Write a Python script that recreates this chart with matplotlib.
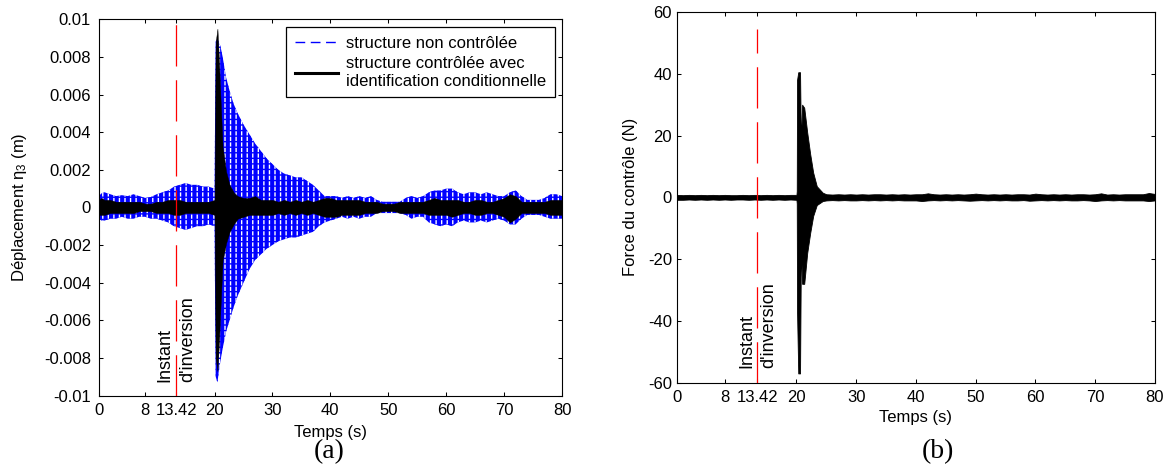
import numpy as np
import matplotlib
matplotlib.use("Agg")
import matplotlib.pyplot as plt
from matplotlib.lines import Line2D

plt.rcParams['font.family'] = ['Liberation Sans', 'DejaVu Sans']
plt.rcParams['mathtext.fontset'] = 'custom'
plt.rcParams['mathtext.rm'] = 'Liberation Sans'
plt.rcParams['mathtext.it'] = 'Liberation Sans'
plt.rcParams['hatch.linewidth'] = 1.0

# instant of inversion (s)
t_inv = 13.42

# (a) displacement envelopes
t_a = [0, 0.5, 1, 2, 3, 4, 5, 6, 7, 8, 9, 10, 11, 12, 13, 14, 15, 16, 17, 18, 19, 20,
       20.2, 20.5, 20.8, 21, 21.4, 22, 22.6, 23.3, 24,
       25, 26, 27, 28, 29, 30, 31, 32, 33, 34, 35, 36, 37, 38, 39, 40, 41, 42, 43, 44,
       45, 46, 47, 48, 49, 50, 51, 52, 53, 54, 55, 56, 57, 58, 59, 60, 61, 62, 63, 64,
       65, 66, 67, 68, 69, 70, 71, 72, 73, 74, 75, 76, 77, 78, 79, 80]

blue_hi = [0.0006, 0.00075, 0.0008, 0.0007, 0.0006, 0.00065, 0.0006, 0.0007, 0.0006, 0.0005,
           0.00055, 0.0007, 0.0008, 0.0009, 0.0011, 0.0012, 0.0013, 0.0012, 0.0012, 0.0011,
           0.0011, 0.0010,
           0.0088, 0.0090, 0.0087, 0.0086, 0.0080, 0.0069, 0.0062, 0.0055, 0.0050,
           0.0044, 0.0039, 0.0034, 0.0030, 0.0026, 0.0023, 0.0020, 0.0018, 0.0017, 0.0016,
           0.0016, 0.0014, 0.0012, 0.0009, 0.0006, 0.0006, 0.0006, 0.0005, 0.0006, 0.0005,
           0.0006, 0.0005, 0.0006, 0.0004, 0.0003, 0.0003, 0.0003, 0.0003, 0.0005, 0.0006,
           0.0005, 0.0006, 0.0008, 0.0009, 0.0009, 0.0010, 0.0010, 0.0008, 0.0007, 0.0008,
           0.0008, 0.0007, 0.0008, 0.0007, 0.0006, 0.0006, 0.0008, 0.0009, 0.0006, 0.0004,
           0.0004, 0.0004, 0.0005, 0.0007, 0.0007, 0.0006]
blue_lo = [-0.0006, -0.0007, -0.0007, -0.0006, -0.0006, -0.0005, -0.0006, -0.0006, -0.0005, -0.0005,
           -0.0006, -0.0006, -0.0007, -0.0008, -0.0010, -0.0011, -0.0012, -0.0011, -0.0010, -0.0010,
           -0.0009, -0.0010,
           -0.0090, -0.0093, -0.0086, -0.0082, -0.0075, -0.0066, -0.0060, -0.0053, -0.0047,
           -0.0040, -0.0033, -0.0028, -0.0025, -0.0022, -0.0020, -0.0018, -0.0017, -0.0016, -0.0016,
           -0.0015, -0.0014, -0.0013, -0.0010, -0.0008, -0.0007, -0.0006, -0.0005, -0.0006, -0.0005,
           -0.0006, -0.0005, -0.0005, -0.0003, -0.0003, -0.0003, -0.0003, -0.0003, -0.0004, -0.0006,
           -0.0005, -0.0005, -0.0008, -0.0009, -0.0010, -0.0009, -0.0010, -0.0008, -0.0007, -0.0008,
           -0.0008, -0.0007, -0.0008, -0.0007, -0.0006, -0.0007, -0.0009, -0.0009, -0.0006, -0.0004,
           -0.0004, -0.0004, -0.0005, -0.0006, -0.0006, -0.0006]
black_hi = [0.0004, 0.0005, 0.0004, 0.0004, 0.0003, 0.0003, 0.0003, 0.0003, 0.0003, 0.0002,
            0.0002, 0.0003, 0.0003, 0.0004, 0.0004, 0.0004, 0.0003, 0.0003, 0.0003, 0.0003,
            0.0003, 0.0004,
            0.0088, 0.0095, 0.0076, 0.0060, 0.0032, 0.0019, 0.0012, 0.0008, 0.0006,
            0.0005, 0.0005, 0.0006, 0.0004, 0.0004, 0.0004, 0.0003, 0.0004, 0.0003, 0.0004,
            0.0003, 0.0004, 0.0003, 0.0004, 0.0005, 0.0005, 0.0004, 0.0004, 0.0004, 0.0004,
            0.0004, 0.0003, 0.0003, 0.0003, 0.0002, 0.0002, 0.0002, 0.0003, 0.0003, 0.0003,
            0.0003, 0.0003, 0.0004, 0.0005, 0.0004, 0.0004, 0.0004, 0.0004, 0.0003, 0.0003,
            0.0004, 0.0004, 0.0003, 0.0003, 0.0004, 0.0005, 0.0007, 0.0006, 0.0003, 0.0003,
            0.0003, 0.0003, 0.0003, 0.0004, 0.0004, 0.0004]
black_lo = [-0.0004, -0.0004, -0.0004, -0.0003, -0.0003, -0.0003, -0.0003, -0.0003, -0.0002, -0.0002,
            -0.0002, -0.0003, -0.0003, -0.0003, -0.0004, -0.0004, -0.0003, -0.0003, -0.0003, -0.0003,
            -0.0003, -0.0004,
            -0.0080, -0.0087, -0.0070, -0.0055, -0.0028, -0.0019, -0.0013, -0.0009, -0.0006,
            -0.0005, -0.0004, -0.0004, -0.0004, -0.0004, -0.0004, -0.0003, -0.0004, -0.0003, -0.0004,
            -0.0003, -0.0004, -0.0003, -0.0004, -0.0005, -0.0005, -0.0005, -0.0004, -0.0004, -0.0004,
            -0.0004, -0.0003, -0.0003, -0.0003, -0.0002, -0.0002, -0.0002, -0.0003, -0.0003, -0.0003,
            -0.0003, -0.0003, -0.0004, -0.0004, -0.0004, -0.0004, -0.0005, -0.0004, -0.0003, -0.0003,
            -0.0004, -0.0004, -0.0003, -0.0003, -0.0004, -0.0005, -0.0008, -0.0006, -0.0003, -0.0003,
            -0.0003, -0.0003, -0.0003, -0.0004, -0.0004, -0.0004]

# (b) control force envelope (N)
t_b = [0, 1, 2, 3, 4, 5, 6, 7, 8, 9, 10, 11, 12, 13, 14, 15, 16, 17, 18, 19, 20,
       20.05, 20.1, 20.3, 20.6, 20.75, 20.95, 21.3, 21.8, 22.3, 22.8, 23.4, 24.4,
       25, 26, 27, 28, 29, 30, 31, 32,
       33, 34, 35, 36, 37, 38, 39, 40,
       41, 42, 43, 44, 45, 46, 47, 48,
       49, 50, 51, 52, 53, 54, 55, 56,
       57, 58, 59, 60, 61, 62, 63, 64,
       65, 66, 67, 68, 69, 70, 71, 72,
       73, 74, 75, 76, 77, 78, 79, 80]
force_hi = [0.8, 0.7, 0.8, 0.7, 0.8, 0.7, 0.8, 0.7, 0.8, 0.7, 0.7, 0.8, 0.7, 0.8, 0.7, 0.8,
            0.7, 0.8, 0.7, 0.8, 0.8,
            2, 38, 40.5, 40.5, 17, 30, 29, 21, 14, 8, 3.6, 1.5,
            1.0, 0.9, 1.0, 0.9, 1.0, 0.9, 1.0, 0.9,
            1.0, 1.0, 0.9, 1.0, 0.9, 1.0, 0.9, 1.0,
            1.0, 1.3, 1.0, 0.9, 1.0, 0.9, 1.0, 0.9,
            1.0, 1.2, 1.0, 0.9, 1.0, 0.9, 1.0, 0.9,
            1.0, 1.0, 0.9, 1.2, 1.0, 0.9, 1.0, 0.9,
            1.0, 0.9, 1.0, 1.0, 0.9, 1.0, 1.3, 0.9,
            1.0, 0.9, 1.0, 1.0, 1.0, 1.0, 1.4, 1.1]
force_lo = [-0.8, -0.8, -0.7, -0.8, -0.7, -0.8, -0.7, -0.8, -0.7, -0.8, -0.7, -0.7, -0.8, -0.7,
            -0.8, -0.7, -0.8, -0.7, -0.8, -0.7, -0.8,
            -2, -37, -57, -57, -16, -28, -28, -18, -11.5, -6, -2.5, -1.2,
            -1.0, -0.9, -1.0, -0.9, -1.0, -1.0, -0.9, -1.0,
            -0.9, -1.0, -0.9, -1.0, -0.9, -1.0, -1.0, -1.0,
            -1.2, -1.0, -0.9, -1.0, -0.9, -1.0, -0.9, -1.0,
            -1.1, -1.0, -0.9, -1.0, -0.9, -1.0, -0.9, -1.0,
            -1.0, -0.9, -1.1, -1.0, -0.9, -1.0, -0.9, -1.0,
            -0.9, -1.0, -1.0, -0.9, -1.0, -1.2, -1.0, -0.9,
            -1.0, -0.9, -1.0, -1.0, -1.0, -1.0, -1.2, -1.0]

xticks = [0, 8, t_inv, 20, 30, 40, 50, 60, 70, 80]
xtick_labels = ['0', '8', '13.42', '20', '30', '40', '50', '60', '70', '80']
yticks_a = [-0.01, -0.008, -0.006, -0.004, -0.002, 0, 0.002, 0.004, 0.006, 0.008, 0.01]
ytick_labels_a = ['-0.01', '-0.008', '-0.006', '-0.004', '-0.002', '0',
                  '0.002', '0.004', '0.006', '0.008', '0.01']
yticks_b = [-60, -40, -20, 0, 20, 40, 60]
ytick_labels_b = ['-60', '-40', '-20', '0', '20', '40', '60']


def style_axes(ax, ypad):
    for s in ax.spines.values():
        s.set_linewidth(0.8)
    ax.tick_params(direction='in', length=3, width=0.75, top=True, right=True,
                   labelsize=12)
    ax.tick_params(axis='x', pad=5.5)
    ax.tick_params(axis='y', pad=ypad)
    ax.set_xlim(0, 80)
    ax.set_xticks(xticks)
    ax.set_xticklabels(xtick_labels)


fig = plt.figure(figsize=(11.68, 4.68), dpi=100)

# ---- (a)
ax1 = fig.add_axes([0.0845, 0.1549, 0.3967, 0.8039])
# blue band: white dashes on blue, like the dense dashed trace
ax1.fill_between(t_a, blue_lo, blue_hi, facecolor='blue', edgecolor='white',
                 hatch='|||', linewidth=0, zorder=1)
ax1.fill_between(t_a, blue_lo, blue_hi, facecolor='none', edgecolor='blue',
                 hatch='---', linewidth=0, zorder=1)
ax1.fill_between(t_a, black_lo, black_hi, facecolor='black', edgecolor='black',
                 linewidth=0.3, zorder=2)
ax1.axvline(t_inv, color='red', linewidth=0.9, dashes=(33, 11), zorder=3)
ax1.text(t_inv - 2.0, -0.0093, 'Instant', rotation=90, ha='center', va='bottom', fontsize=13)
ax1.text(t_inv + 2.0, -0.0093, "d'inversion", rotation=90, ha='center', va='bottom', fontsize=13)
ax1.set_ylim(-0.01, 0.01)
ax1.set_yticks(yticks_a)
ax1.set_yticklabels(ytick_labels_a)
style_axes(ax1, 5.5)
ax1.set_xlabel('Temps (s)', fontsize=12, va='center')
ax1.xaxis.set_label_coords(0.5, -0.097)
ax1.set_ylabel('Déplacement η$_3$ (m)', fontsize=12, va='center')
ax1.yaxis.set_label_coords(-0.1707, 0.5)

handles = [Line2D([], [], color='blue', linewidth=1, dashes=(7, 4)),
           Line2D([], [], color='black', linewidth=2.2)]
leg = ax1.legend(handles, ['structure non contrôlée',
                           'structure contrôlée avec\nidentification conditionnelle'],
                 loc='upper right', bbox_to_anchor=(0.984, 0.979), borderaxespad=0,
                 fontsize=12, fancybox=False, framealpha=1, edgecolor='black',
                 handlelength=2.6, handletextpad=0.5, labelspacing=0.35, borderpad=0.5)
leg.get_frame().set_linewidth(0.9)

# ---- (b)
ax2 = fig.add_axes([0.5796, 0.1823, 0.4092, 0.7921])
ax2.fill_between(t_b, force_lo, force_hi, facecolor='black', edgecolor='black',
                 linewidth=0.6, zorder=2)
ax2.set_ylim(-60, 60)
ax2.axvline(t_inv, ymin=0, ymax=(54.5 + 60) / 120, color='red', linewidth=0.9,
            dashes=(33, 11), zorder=3)
ax2.text(t_inv - 1.8, -55.3, 'Instant', rotation=90, ha='center', va='bottom', fontsize=13)
ax2.text(t_inv + 2.0, -55.3, "d'inversion", rotation=90, ha='center', va='bottom', fontsize=13)
ax2.set_yticks(yticks_b)
ax2.set_yticklabels(ytick_labels_b)
style_axes(ax2, 3.5)
ax2.set_xlabel('Temps (s)', fontsize=12, va='center')
ax2.xaxis.set_label_coords(0.5, -0.095)
ax2.set_ylabel('Force du contrôle (N)', fontsize=12, va='center')
ax2.yaxis.set_label_coords(-0.097, 0.5)

fig.text(329 / 1168, 1 - 452 / 468, '(a)', family='Liberation Serif', fontsize=20,
         ha='center', va='center')
fig.text(938 / 1168, 1 - 452 / 468, '(b)', family='Liberation Serif', fontsize=20,
         ha='center', va='center')

fig.savefig('out.png', dpi=100)
